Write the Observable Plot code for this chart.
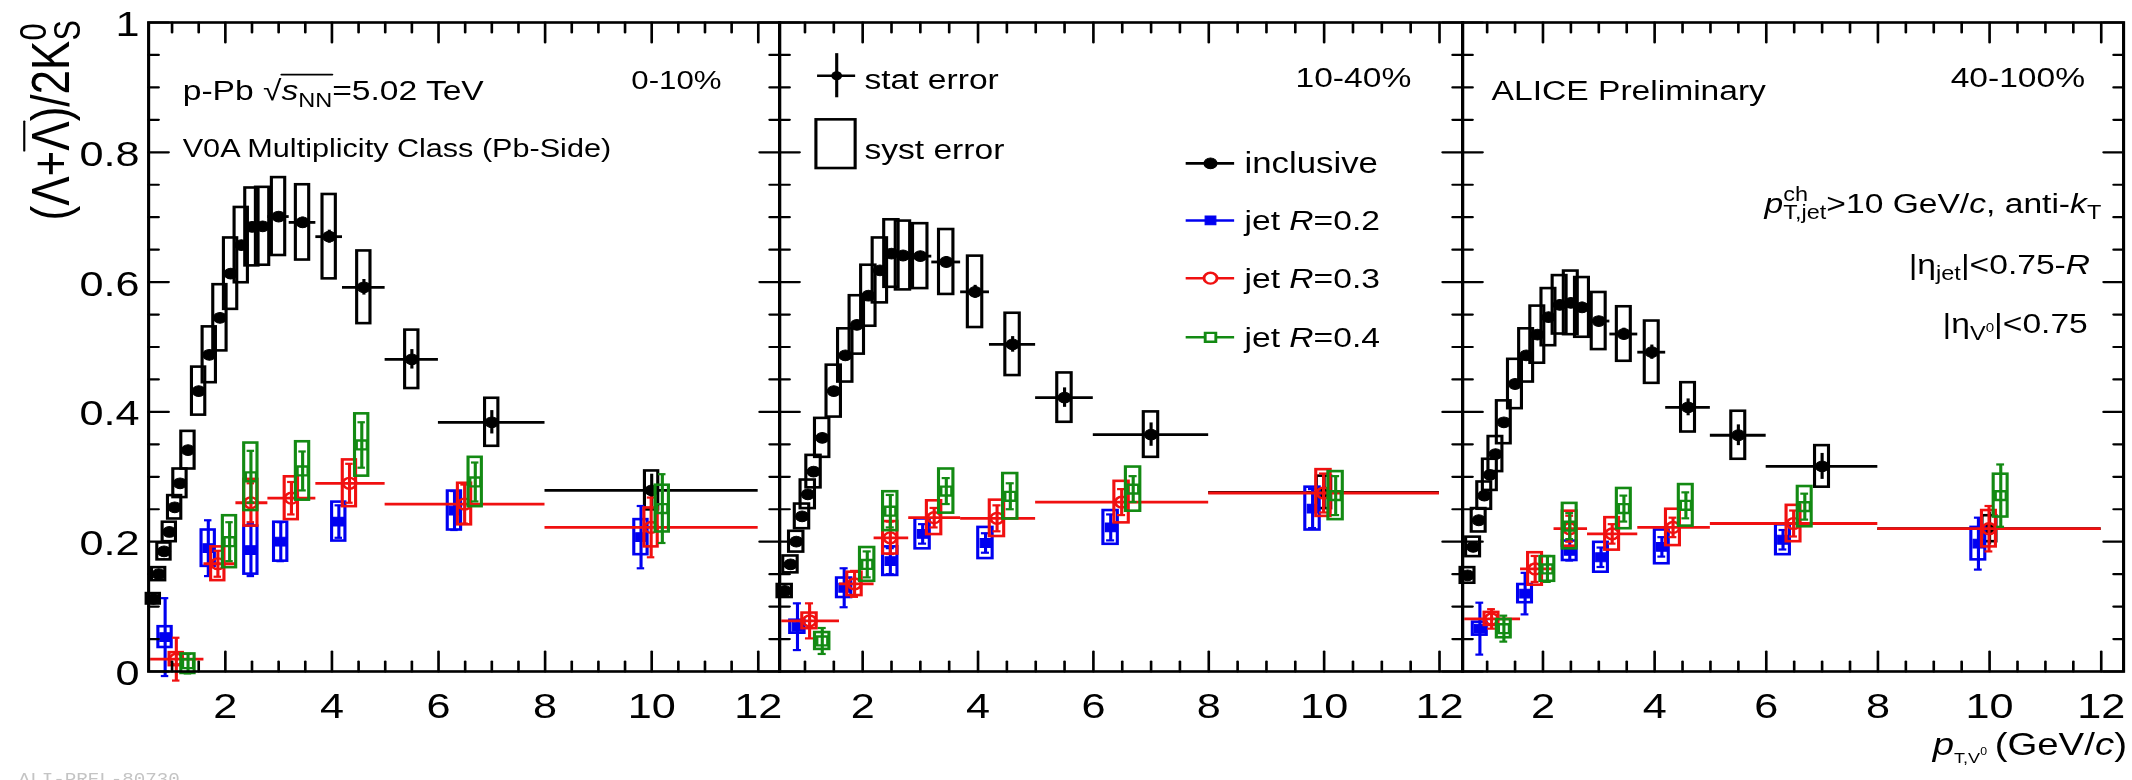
<!DOCTYPE html>
<html>
<head>
<meta charset="utf-8">
<script src="https://cdn.jsdelivr.net/npm/d3@7"></script>
<script src="https://cdn.jsdelivr.net/npm/@observablehq/plot@0.6"></script>
<style>
  html, body { margin: 0; padding: 0; background: #fff; overflow: hidden; }
  #stage { position: relative; height: 780px; transform-origin: 0 0; }
  #stage svg { position: absolute; left: 0; top: 0; }
</style>
</head>
<body>
<div id="stage"></div>
<script>
// ---------------- data ----------------
const centralityClasses = ["0-10%", "10-40%", "40-100%"];

// inclusive (Λ+Λ̄)/2K0S, pT bins in GeV/c
const inclBinLo = [0.6, 0.7, 0.8, 0.9, 1.0, 1.1, 1.2, 1.4, 1.6, 1.8, 2.0, 2.2, 2.4, 2.6, 2.8, 3.2, 3.7, 4.2, 5.0, 6.0, 8.0];
const inclBinHi = [0.7, 0.8, 0.9, 1.0, 1.1, 1.2, 1.4, 1.6, 1.8, 2.0, 2.2, 2.4, 2.6, 2.8, 3.2, 3.7, 4.2, 5.0, 6.0, 8.0, 12.0];
const inclPt    = [0.65, 0.75, 0.85, 0.95, 1.05, 1.15, 1.3, 1.5, 1.7, 1.9, 2.1, 2.3, 2.5, 2.7, 3.0, 3.45, 3.95, 4.6, 5.5, 7.0, 10.0];

const inclRatio010 = [0.112, 0.150, 0.185, 0.215, 0.253, 0.290, 0.341, 0.432, 0.488, 0.545, 0.613, 0.657, 0.685, 0.686, 0.701, 0.692, 0.670, 0.592, 0.481, 0.384, 0.279];
const inclSyst010  = [0.008, 0.010, 0.013, 0.015, 0.018, 0.022, 0.029, 0.037, 0.043, 0.051, 0.055, 0.058, 0.060, 0.060, 0.060, 0.058, 0.065, 0.056, 0.045, 0.037, 0.030];
const inclStat010  = [0.003, 0.003, 0.003, 0.003, 0.003, 0.004, 0.004, 0.004, 0.005, 0.005, 0.005, 0.006, 0.006, 0.007, 0.006, 0.008, 0.010, 0.012, 0.015, 0.018, 0.025];

const inclRatio1040 = [0.124, 0.165, 0.200, 0.239, 0.273, 0.308, 0.360, 0.432, 0.487, 0.534, 0.579, 0.618, 0.644, 0.641, 0.640, 0.631, 0.585, 0.504, 0.422, 0.365, 0.276];
const inclSyst1040  = [0.010, 0.013, 0.016, 0.019, 0.022, 0.025, 0.030, 0.040, 0.041, 0.045, 0.047, 0.050, 0.052, 0.053, 0.050, 0.050, 0.055, 0.048, 0.038, 0.035, 0.025];
const inclStat1040  = [0.003, 0.003, 0.003, 0.003, 0.003, 0.004, 0.004, 0.004, 0.005, 0.005, 0.005, 0.006, 0.006, 0.007, 0.006, 0.008, 0.010, 0.012, 0.015, 0.018, 0.025];

const inclRatio40100 = [0.148, 0.192, 0.233, 0.271, 0.303, 0.335, 0.384, 0.443, 0.487, 0.519, 0.546, 0.565, 0.568, 0.561, 0.540, 0.520, 0.492, 0.407, 0.364, 0.316, 0.220];
const inclSyst40100  = [0.012, 0.015, 0.018, 0.021, 0.024, 0.027, 0.033, 0.038, 0.041, 0.044, 0.044, 0.045, 0.049, 0.046, 0.044, 0.042, 0.048, 0.038, 0.037, 0.032, 0.020];
const inclStat40100  = [0.003, 0.003, 0.004, 0.004, 0.004, 0.005, 0.005, 0.005, 0.006, 0.006, 0.006, 0.007, 0.007, 0.008, 0.007, 0.009, 0.011, 0.013, 0.016, 0.020, 0.025];

// V0s in charged jets, bins in GeV/c, points drawn at their mean pT
const jetBinLo = [0.6, 1.6, 2.2, 2.8, 3.7, 5.0, 8.0];
const jetBinHi = [1.6, 2.2, 2.8, 3.7, 5.0, 8.0, 12.0];
const jetPtR02 = [0.87, 1.68, 2.48, 3.04, 4.13, 6.30, 9.80];
const jetPtR03 = [1.08, 1.86, 2.48, 3.24, 4.33, 6.49, 9.99];
const jetPtR04 = [1.30, 2.08, 2.48, 3.45, 4.56, 6.69, 10.20];

const jetR02Ratio010 = [0.053, 0.190, 0.187, 0.200, 0.231, 0.248, 0.207];
const jetR02Syst010  = [0.016, 0.028, 0.037, 0.030, 0.030, 0.030, 0.027];
const jetR02Stat010  = [0.060, 0.043, 0.040, 0.030, 0.025, 0.030, 0.048];
const jetR03Ratio010 = [0.019, 0.166, 0.260, 0.267, 0.290, 0.258, 0.222];
const jetR03Syst010  = [0.010, 0.026, 0.036, 0.033, 0.036, 0.032, 0.030];
const jetR03Stat010  = [0.033, 0.020, 0.030, 0.025, 0.030, 0.030, 0.046];
const jetR04Ratio010 = [0.012, 0.200, 0.300, 0.309, 0.349, 0.292, 0.251];
const jetR04Syst010  = [0.015, 0.040, 0.052, 0.045, 0.048, 0.038, 0.036];
const jetR04Stat010  = [0.015, 0.030, 0.040, 0.030, 0.035, 0.030, 0.053];

const jetR02Ratio1040 = [0.069, 0.129, 0.170, 0.212, 0.198, 0.222, 0.251];
const jetR02Syst1040  = [0.010, 0.015, 0.022, 0.023, 0.024, 0.026, 0.033];
const jetR02Stat1040  = [0.036, 0.030, 0.020, 0.015, 0.015, 0.020, 0.030];
const jetR03Ratio1040 = [0.078, 0.135, 0.206, 0.237, 0.236, 0.261, 0.275];
const jetR03Syst1040  = [0.012, 0.018, 0.025, 0.026, 0.028, 0.032, 0.036];
const jetR03Stat1040  = [0.027, 0.020, 0.025, 0.015, 0.020, 0.020, 0.030];
const jetR04Ratio1040 = [0.047, 0.165, 0.247, 0.278, 0.270, 0.281, 0.271];
const jetR04Syst1040  = [0.013, 0.026, 0.030, 0.034, 0.035, 0.034, 0.037];
const jetR04Stat1040  = [0.020, 0.020, 0.025, 0.020, 0.020, 0.020, 0.030];

const jetR02Ratio40100 = [0.066, 0.120, 0.186, 0.176, 0.192, 0.203, 0.197];
const jetR02Syst40100  = [0.010, 0.014, 0.015, 0.023, 0.026, 0.023, 0.025];
const jetR02Stat40100  = [0.040, 0.032, 0.015, 0.015, 0.015, 0.015, 0.040];
const jetR03Ratio40100 = [0.081, 0.158, 0.220, 0.212, 0.222, 0.228, 0.220];
const jetR03Syst40100  = [0.010, 0.025, 0.027, 0.025, 0.028, 0.028, 0.028];
const jetR03Stat40100  = [0.015, 0.020, 0.020, 0.015, 0.015, 0.020, 0.035];
const jetR04Ratio40100 = [0.066, 0.158, 0.224, 0.251, 0.256, 0.254, 0.271];
const jetR04Syst40100  = [0.014, 0.019, 0.035, 0.031, 0.032, 0.031, 0.033];
const jetR04Stat40100  = [0.020, 0.020, 0.020, 0.020, 0.020, 0.020, 0.048];

// axes
const xTicksMajor = [2, 4, 6, 8, 10, 12];
const xTicksMinor = [1, 1.5, 2.5, 3, 3.5, 4.5, 5, 5.5, 6.5, 7, 7.5, 8.5, 9, 9.5, 10.5, 11, 11.5];
const yTicksMajor = [0, 0.2, 0.4, 0.6, 0.8, 1];
const yTicksMinor = d3.range(0.05, 1, 0.05).filter(v => Math.abs(v * 5 - Math.round(v * 5)) > 1e-6);
const yTickLabels = ["0", "0.2", "0.4", "0.6", "0.8", "1"];
const legendLabels = ["inclusive", "R=0.2", "R=0.3", "R=0.4"];

// ---------------- layout ----------------
const STRETCH = 1.2;                       // horizontal aspect of the canvas
const PAGE_W = 2132, PAGE_H = 780;
const W = PAGE_W / STRETCH;
const EDGES = [148, 779, 1462, 2123].map(v => v / STRETCH);
const FRAME_TOP = 22, FRAME_BOTTOM = 671;
const X_DOMAIN = [0.56, 12.4];
const BOX_HALF = 0.125;                    // half width of systematic boxes (GeV/c)
const CAP_HALF = 0.07;
const LINE = 2.6;
const FONT = '"Liberation Sans", Arial, Helvetica, sans-serif';
const BLACK = "#000", BLUE = "#0000f0", RED = "#f01010", GREEN = "#138a13";
const TEXT = 28, TICK_FONT = 36;

const stage = document.getElementById("stage");
stage.style.width = W + "px";
stage.style.transform = `scaleX(${STRETCH})`;

// ---------------- helpers ----------------
const SEGMENT = {draw(context, l) { context.moveTo(0, 0); context.lineTo(0, -l); }};
const measureCtx = document.createElement("canvas").getContext("2d");
function textWidth(t, size, italic) {
  measureCtx.font = `${italic ? "italic " : ""}${size}px ${FONT}`;
  return measureCtx.measureText(t).width;
}
const SUB = {scale: 0.7, rise: -0.22};
const SUP = {scale: 0.7, rise: 0.42};

// text made of runs with sub/superscripts, italics and an overline
function rich(runs, {x, y, frameAnchor, dx = 0, size, anchor = "start", rotate = 0, fill = BLACK, overAt = 0.86}) {
  let pen = 0, groupStart = 0;
  const laid = runs.map(run => {
    const r = typeof run === "string" ? {t: run} : run;
    const s = size * (r.scale ?? 1);
    const w = textWidth(r.t, s, r.it);
    let start;
    if (r.stack) { start = groupStart; pen = Math.max(pen, start + w); }
    else { start = pen; groupStart = pen; pen = start + w; }
    return {...r, s, w, start, rise: (r.rise ?? 0) * size};
  });
  const offset = anchor === "end" ? -pen : anchor === "middle" ? -pen / 2 : 0;
  const pos = frameAnchor ? {y, frameAnchor} : {x, y};
  const place = (along, up) => rotate === -90 ? {dx: dx - up, dy: -along} : {dx: dx + along, dy: -up};
  const marks = laid.map(p => Plot.text([p.t], {
    ...pos, ...place(offset + p.start, p.rise), text: d => d,
    fontSize: p.s, fontStyle: p.it ? "italic" : "normal", fontFamily: FONT,
    textAnchor: "start", lineAnchor: "bottom", rotate, fill
  }));
  const over = laid.filter(p => p.over);
  if (over.length) {
    const a = d3.min(over, p => p.start), b = d3.max(over, p => p.start + p.w);
    marks.push(Plot.vector([0], {
      ...pos, ...place(offset + a, overAt * size), length: b - a,
      rotate: rotate === -90 ? 0 : 90, anchor: "start", shape: SEGMENT, stroke: fill, strokeWidth: 1.8
    }));
  }
  return marks;
}

function plainText(t, {x, y, size = TEXT, anchor = "start"}) {
  return Plot.text([t], {x, y, text: d => d, textAnchor: anchor, lineAnchor: "bottom", fontSize: size, fontFamily: FONT, fill: BLACK});
}

function rows(pt, y, syst, stat, lo, hi) {
  return pt.map((x, i) => ({x, y: y[i], syst: syst[i], stat: stat[i], lo: lo[i], hi: hi[i]}));
}

function marker(symbol) { return symbol === "square" ? 5.0 : 5.4; }

function seriesMarks(data, {color, symbol, filled, xErr, caps}) {
  const marks = [
    Plot.rect(data, {x1: d => d.x - BOX_HALF, x2: d => d.x + BOX_HALF, y1: d => d.y - d.syst, y2: d => d.y + d.syst,
      fill: "none", stroke: color, strokeWidth: LINE}),
    Plot.ruleX(data, {x: "x", y1: d => d.y - d.stat, y2: d => d.y + d.stat, stroke: color, strokeWidth: LINE})
  ];
  if (caps) {
    marks.push(Plot.ruleY(data, {y: d => d.y - d.stat, x1: d => d.x - CAP_HALF, x2: d => d.x + CAP_HALF, stroke: color, strokeWidth: 2.2}));
    marks.push(Plot.ruleY(data, {y: d => d.y + d.stat, x1: d => d.x - CAP_HALF, x2: d => d.x + CAP_HALF, stroke: color, strokeWidth: 2.2}));
  }
  if (xErr) marks.push(Plot.ruleY(data, {y: "y", x1: "lo", x2: "hi", stroke: color, strokeWidth: 2.8}));
  marks.push(Plot.dot(data, {x: "x", y: "y", symbol, r: marker(symbol),
    fill: filled ? color : "none", stroke: color, strokeWidth: filled ? 1 : 2.4}));
  return marks;
}

function frameMarks(withYLabels) {
  const tick = (data, ch, frameAnchor, rotate, length) => Plot.vector(data, {
    [ch]: d => d, frameAnchor, rotate, length, anchor: "start", shape: SEGMENT, stroke: BLACK, strokeWidth: 2.2
  });
  const ym = 20 / STRETCH, yn = 10 / STRETCH;
  const marks = [
    Plot.frame({stroke: BLACK, strokeWidth: 2.6}),
    tick(xTicksMajor, "x", "bottom", 0, 20), tick(xTicksMinor, "x", "bottom", 0, 10),
    tick(xTicksMajor, "x", "top", 180, 20), tick(xTicksMinor, "x", "top", 180, 10),
    tick(yTicksMajor, "y", "left", 90, ym), tick(yTicksMinor, "y", "left", 90, yn),
    tick(yTicksMajor, "y", "right", -90, ym), tick(yTicksMinor, "y", "right", -90, yn),
    Plot.text(xTicksMajor, {x: d => d, frameAnchor: "bottom", dy: 35, lineAnchor: "middle",
      fontSize: TICK_FONT, fontFamily: FONT, fill: BLACK})
  ];
  if (withYLabels) {
    marks.push(Plot.text(yTicksMajor, {y: d => d, text: (d, i) => yTickLabels[i], frameAnchor: "left",
      dx: -9 / STRETCH, dy: 2, textAnchor: "end", lineAnchor: "middle", fontSize: TICK_FONT, fontFamily: FONT, fill: BLACK}));
  }
  return marks;
}

function dataMarks(incl, jets) {
  const [r, s, st] = incl;
  const marks = seriesMarks(rows(inclPt, r, s, st, inclBinLo, inclBinHi), {color: BLACK, symbol: "circle", filled: true, xErr: true});
  const styles = [
    {pt: jetPtR02, color: BLUE, symbol: "square", filled: true, xErr: false, caps: true},
    {pt: jetPtR03, color: RED, symbol: "circle", filled: false, xErr: true, caps: true},
    {pt: jetPtR04, color: GREEN, symbol: "square", filled: false, xErr: false, caps: true}
  ];
  jets.forEach(([jr, js, jst], k) => {
    marks.push(...seriesMarks(rows(styles[k].pt, jr, js, jst, jetBinLo, jetBinHi), styles[k]));
  });
  return marks;
}

function panel(i, marks) {
  return Plot.plot({
    width: W, height: PAGE_H,
    marginLeft: EDGES[i], marginRight: W - EDGES[i + 1],
    marginTop: FRAME_TOP, marginBottom: PAGE_H - FRAME_BOTTOM,
    x: {domain: X_DOMAIN, axis: null},
    y: {domain: [0, 1], axis: null},
    style: {background: "transparent", fontFamily: FONT, overflow: "visible"},
    marks
  });
}

// ---------------- panel 1: 0-10% ----------------
const p1 = panel(0, [
  ...dataMarks([inclRatio010, inclSyst010, inclStat010],
    [[jetR02Ratio010, jetR02Syst010, jetR02Stat010], [jetR03Ratio010, jetR03Syst010, jetR03Stat010], [jetR04Ratio010, jetR04Syst010, jetR04Stat010]]),
  ...frameMarks(true),
  ...rich(["p-Pb ", "\u221A", {t: "s", it: true, over: true}, {t: "NN", ...SUB, over: true}, "=5.02 TeV"],
    {x: 1.20, y: 0.880, size: TEXT, overAt: 0.92}),
  plainText("V0A Multiplicity Class (Pb-Side)", {x: 1.20, y: 0.793, size: 25.5}),
  plainText(centralityClasses[0], {x: 11.31, y: 0.898, size: 26, anchor: "end"}),
  ...rich(["(\u039B+", {t: "\u039B", over: true}, ")/2K", {t: "0", ...SUP}, {t: "S", ...SUB, stack: true}],
    {y: 0.695, frameAnchor: "left", dx: -80 / STRETCH, size: 44, rotate: -90, overAt: 0.84}),
  Plot.text(["ALI-PREL-80730"], {frameAnchor: "bottom-left", dx: -130 / STRETCH, dy: 113, text: d => d, textAnchor: "start",
    lineAnchor: "bottom", fontSize: 16, fontFamily: '"Liberation Mono", "DejaVu Sans Mono", monospace', fill: "#c4c4c4"})
]);

// ---------------- panel 2: 10-40% with legend ----------------
const legendY = [0.783, 0.695, 0.606, 0.515];
const legendStyle = [
  {color: BLACK, symbol: "circle", filled: true},
  {color: BLUE, symbol: "square", filled: true},
  {color: RED, symbol: "circle", filled: false},
  {color: GREEN, symbol: "square", filled: false}
];
const legendMarks = [];
legendStyle.forEach((st, k) => {
  legendMarks.push(Plot.ruleY([legendY[k]], {y: d => d, x1: 7.61, x2: 8.45, stroke: st.color, strokeWidth: LINE}));
  legendMarks.push(Plot.dot([legendY[k]], {x: 8.03, y: d => d, symbol: st.symbol, r: marker(st.symbol),
    fill: st.filled ? st.color : "white", stroke: st.color, strokeWidth: st.filled ? 1 : 2.4}));
  if (k === 0) {
    legendMarks.push(plainText(legendLabels[0], {x: 8.62, y: legendY[0] - 0.0155, size: 29}));
  } else {
    const [sym, rest] = [legendLabels[k].slice(0, 1), legendLabels[k].slice(1)];
    legendMarks.push(...rich(["jet ", {t: sym, it: true}, rest], {x: 8.62, y: legendY[k] - 0.0155, size: TEXT}));
  }
});

const p2 = panel(1, [
  ...dataMarks([inclRatio1040, inclSyst1040, inclStat1040],
    [[jetR02Ratio1040, jetR02Syst1040, jetR02Stat1040], [jetR03Ratio1040, jetR03Syst1040, jetR03Stat1040], [jetR04Ratio1040, jetR04Syst1040, jetR04Stat1040]]),
  ...frameMarks(false),
  plainText(centralityClasses[1], {x: 11.51, y: 0.900, anchor: "end"}),
  // stat / syst error keys
  Plot.ruleX([0], {x: 1.55, y1: 0.884, y2: 0.952, stroke: BLACK, strokeWidth: LINE}),
  Plot.ruleY([0], {y: 0.918, x1: 1.22, x2: 1.88, stroke: BLACK, strokeWidth: LINE}),
  Plot.dot([0], {x: 1.55, y: 0.918, r: 4.5, fill: BLACK}),
  plainText("stat error", {x: 2.03, y: 0.898}),
  Plot.rect([0], {x1: 1.20, x2: 1.88, y1: 0.775, y2: 0.850, fill: "none", stroke: BLACK, strokeWidth: LINE}),
  plainText("syst error", {x: 2.03, y: 0.789}),
  ...legendMarks
]);

// ---------------- panel 3: 40-100% ----------------
const p3 = panel(2, [
  ...dataMarks([inclRatio40100, inclSyst40100, inclStat40100],
    [[jetR02Ratio40100, jetR02Syst40100, jetR02Stat40100], [jetR03Ratio40100, jetR03Syst40100, jetR03Stat40100], [jetR04Ratio40100, jetR04Syst40100, jetR04Stat40100]]),
  ...frameMarks(false),
  plainText("ALICE Preliminary", {x: 1.08, y: 0.881}),
  plainText(centralityClasses[2], {x: 11.71, y: 0.900, anchor: "end"}),
  ...rich([{t: "p", it: true}, {t: "ch", ...SUP}, {t: "T,jet", ...SUB, stack: true}, ">10 GeV/", {t: "c", it: true}, ", anti-", {t: "k", it: true}, {t: "T", ...SUB}],
    {x: 12.0, y: 0.707, size: TEXT, anchor: "end"}),
  ...rich(["|\u03B7", {t: "jet", ...SUB}, "|<0.75-", {t: "R", it: true}], {x: 11.8, y: 0.613, size: TEXT, anchor: "end"}),
  ...rich(["|\u03B7", {t: "V", ...SUB}, {t: "0", scale: 0.45, rise: 0.05}, "|<0.75"], {x: 11.76, y: 0.521, size: TEXT, anchor: "end"}),
  ...rich([{t: "p", it: true}, {t: "T,V", scale: 0.47, rise: -0.26}, {t: "0", scale: 0.32, rise: -0.02}, "\u2009(GeV/", {t: "c", it: true}, ")"],
    {x: 12.46, y: -0.128, size: 32, anchor: "end"})
]);

stage.append(p1, p2, p3);
</script>
</body>
</html>
